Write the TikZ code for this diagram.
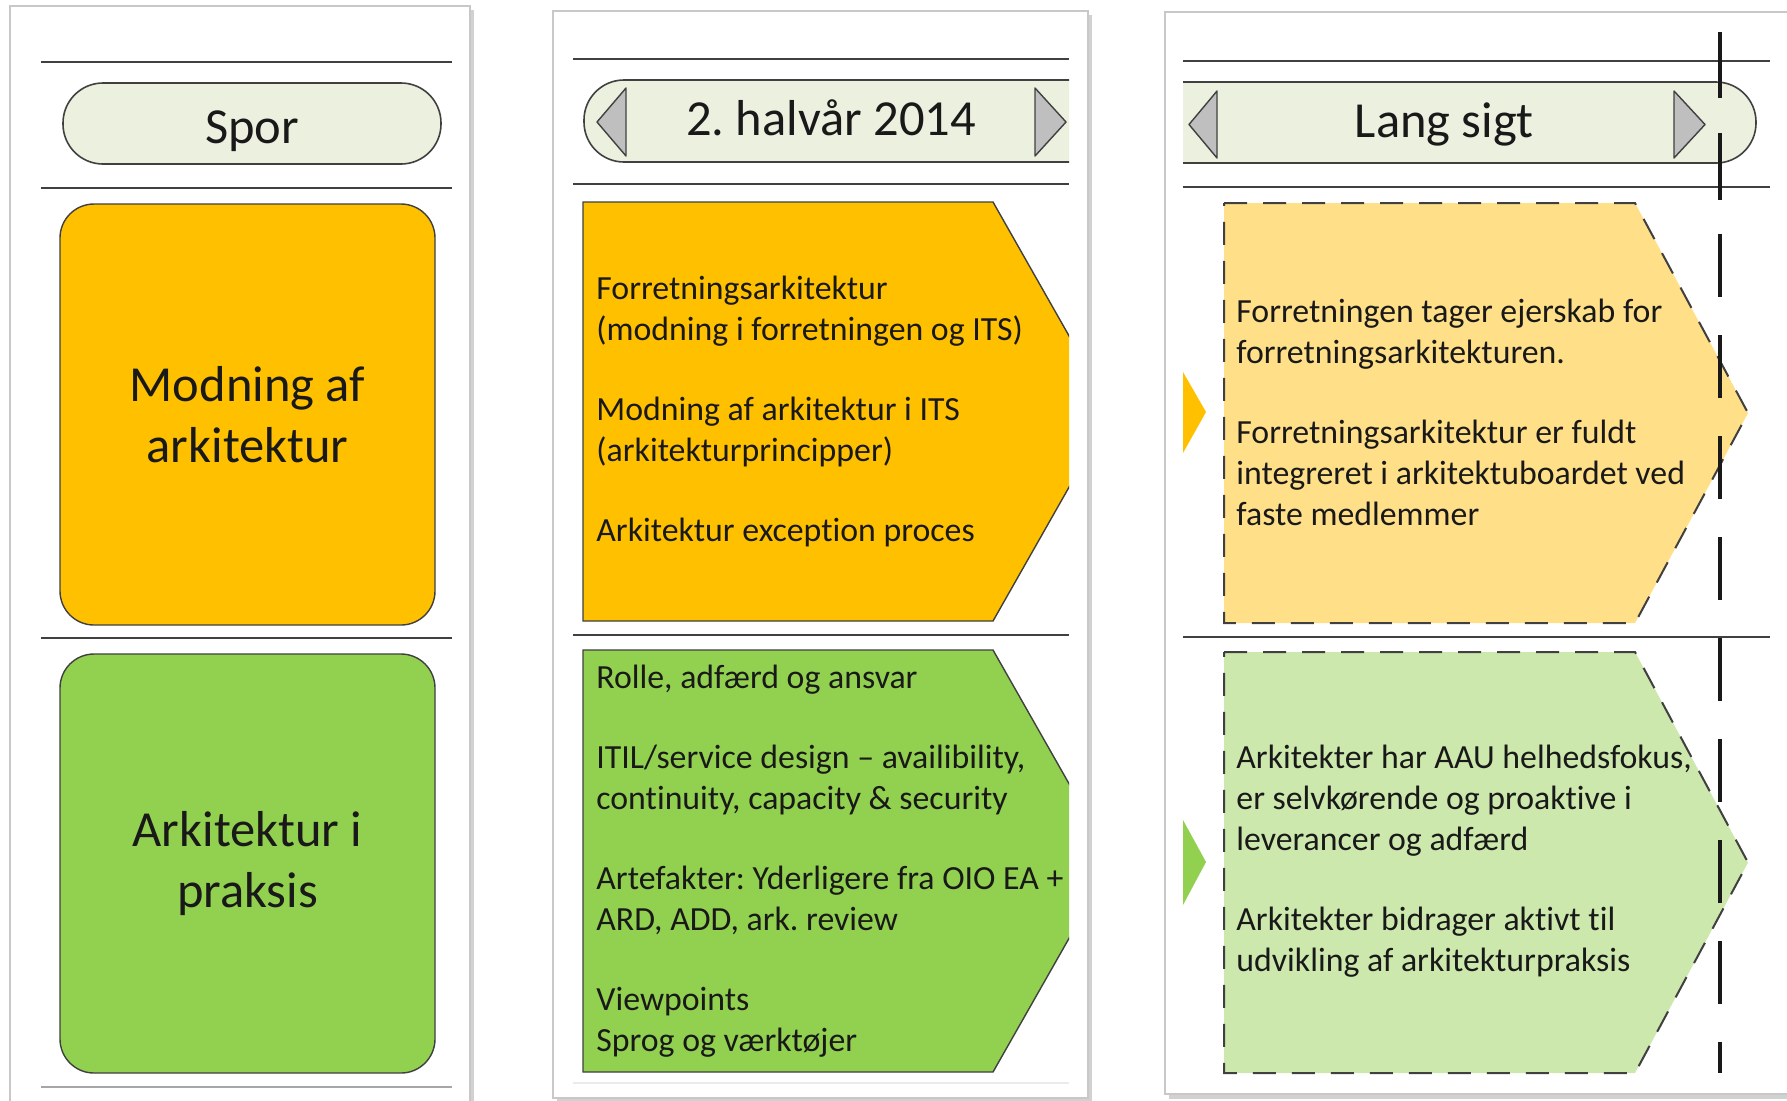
\documentclass[tikz,border=0pt]{standalone}
\usepackage{fontspec}
\setmainfont{Carlito}[Ligatures=NoCommon]
\definecolor{cOrange}{HTML}{FFC000}
\definecolor{cGreen}{HTML}{92D050}
\definecolor{cLYellow}{HTML}{FFDF88}
\definecolor{cLGreen}{HTML}{CDE8AD}
\definecolor{cPill}{HTML}{EBF1DE}
\definecolor{cTri}{HTML}{BFBFBF}
\definecolor{cLine}{HTML}{404040}
\definecolor{cFrame}{HTML}{C8C8C8}
\tikzset{
 frame/.style={fill=white, draw=cFrame, line width=0.8pt},
 shadowbox/.style={fill=black!18},
 sepline/.style={draw=cLine, line width=1.2pt},
 pill/.style={fill=cPill, draw=cLine, line width=0.8pt, rounded corners=20pt},
 tri/.style={fill=cTri, draw=cLine, line width=0.7pt, line join=round},
 bigbox/.style={draw=cLine, line width=0.7pt, rounded corners=17pt},
 solidpent/.style={draw=cLine, line width=0.7pt},
 dashpent/.style={draw=cLine, line width=1pt, dash pattern=on 11.5pt off 8pt},
 bigtxt/.style={font=\fontsize{25.25}{30.75}\selectfont, align=center, inner sep=0pt, text=black!90},
 bodytxt/.style={font=\fontsize{16.9}{20.5}\selectfont, align=left, anchor=west, inner sep=0pt, text=black!90},
 headtxt/.style={font=\fontsize{25.25}{30.75}\selectfont, anchor=base, inner sep=0pt, text=black!90},
 timeline/.style={draw=black!90, line width=2.3pt},
}
\begin{document}
\frenchspacing
\begin{tikzpicture}[x=0.5pt,y=-0.5pt]
\clip (0,0) rectangle (1787,1100);
\fill[white] (0,0) rectangle (1787,1100);
% panel frames
\fill[shadowbox] (14,10) rectangle (474,1140);
\draw[frame] (10,6) rectangle (470,1140);
\fill[shadowbox] (557,15) rectangle (1092,1102);
\draw[frame] (553,11) rectangle (1088,1098);
\fill[shadowbox] (1169,16) rectangle (1800,1099);
\draw[frame] (1165,12) rectangle (1800,1094);
% ---------------- left panel
\draw[sepline] (41,62) -- (452,62);
\draw[sepline] (41,188) -- (452,188);
\draw[sepline] (41,638) -- (452,638);
\draw[sepline, draw=gray!70] (41,1087) -- (452,1087);
\draw[pill] (63,83) rectangle (441,164);
\node[headtxt] (spor) at (252,143) {Spor};
\node[bigbox, fill=cOrange, minimum width=187.5pt, minimum height=210.5pt, bigtxt] (mod) at (247.5,414.5) {Modning af\\arkitektur};
\node[bigbox, fill=cGreen, minimum width=187.5pt, minimum height=209.5pt, bigtxt] (prak) at (247.5,863.5) {Arkitektur i\\praksis};
% ---------------- middle panel
\draw[sepline] (573,59) -- (1069,59);
\draw[sepline] (573,184) -- (1069,184);
\draw[sepline] (573,635) -- (1069,635);
\draw[draw=black!8, line width=1pt] (573,1083) -- (1069,1083);
\begin{scope}
\clip (560,0) rectangle (1069,1100);
\draw[pill] (584,80) rectangle (1150,162);
\draw[solidpent, fill=cOrange] (583,202) -- (993,202) -- (1112,411.5) -- (993,621) -- (583,621) -- cycle;
\draw[solidpent, fill=cGreen] (583,650) -- (993,650) -- (1113,861) -- (993,1072) -- (583,1072) -- cycle;
\end{scope}
\draw[tri] (626,88) -- (626,156) -- (597,122) -- cycle;
\draw[tri] (1035,88) -- (1035,156) -- (1066,122) -- cycle;
\node[headtxt] (h2) at (831,135) {2. halvår 2014};
\node[bodytxt] (t1) at (596,411.5) {Forretningsarkitektur\\(modning i forretningen og ITS)\\[19.5pt]Modning af arkitektur i ITS\\(arkitekturprincipper)\\[19.5pt]Arkitektur exception proces};
\node[bodytxt] (t2) at (596,861) {Rolle, adfærd og ansvar\\[19.5pt]ITIL/service design – availibility,\\continuity, capacity \& security\\[19.5pt]Artefakter: Yderligere fra OIO EA +\\ARD, ADD, ark. review\\[19.5pt]Viewpoints\\Sprog og værktøjer};
% ---------------- right panel
\draw[sepline] (1183,61) -- (1770,61);
\draw[sepline] (1183,187) -- (1770,187);
\draw[sepline] (1183,637) -- (1770,637);
\begin{scope}
\clip (1183,0) rectangle (1800,1100);
\draw[pill] (1120,82) rectangle (1756,163);
\end{scope}
\draw[tri] (1217,91) -- (1217,158) -- (1189,124.5) -- cycle;
\draw[tri] (1674,91) -- (1674,158) -- (1705,124.5) -- cycle;
\node[headtxt] (h3) at (1444,137) {Lang sigt};
\fill[cOrange] (1183,372) -- (1206,412) -- (1183,453) -- cycle;
\fill[cGreen] (1183,820) -- (1206,862) -- (1183,905) -- cycle;
\draw[dashpent, fill=cLYellow] (1224,203) -- (1635,203) -- (1748,413) -- (1635,623) -- (1224,623) -- cycle;
\draw[dashpent, fill=cLGreen] (1224,652) -- (1635,652) -- (1748,862.5) -- (1635,1073) -- (1224,1073) -- cycle;
\node[bodytxt] (t3) at (1236,412.5) {Forretningen tager ejerskab for\\forretningsarkitekturen.\\[19.5pt]Forretningsarkitektur er fuldt\\integreret i arkitektuboardet ved\\faste medlemmer};
\node[bodytxt] (t4) at (1236,861.5) {Arkitekter har AAU helhedsfokus,\\er selvkørende og proaktive i\\leverancer og adfærd\\[19.5pt]Arkitekter bidrager aktivt til\\udvikling af arkitekturpraksis};
% timeline marker
\draw[timeline] (1720,32) -- (1720,98);
\draw[timeline] (1720,133) -- (1720,200);
\draw[timeline, dash pattern=on 31.5pt off 19pt] (1720,234) -- (1720,1073);
\end{tikzpicture}
\end{document}
